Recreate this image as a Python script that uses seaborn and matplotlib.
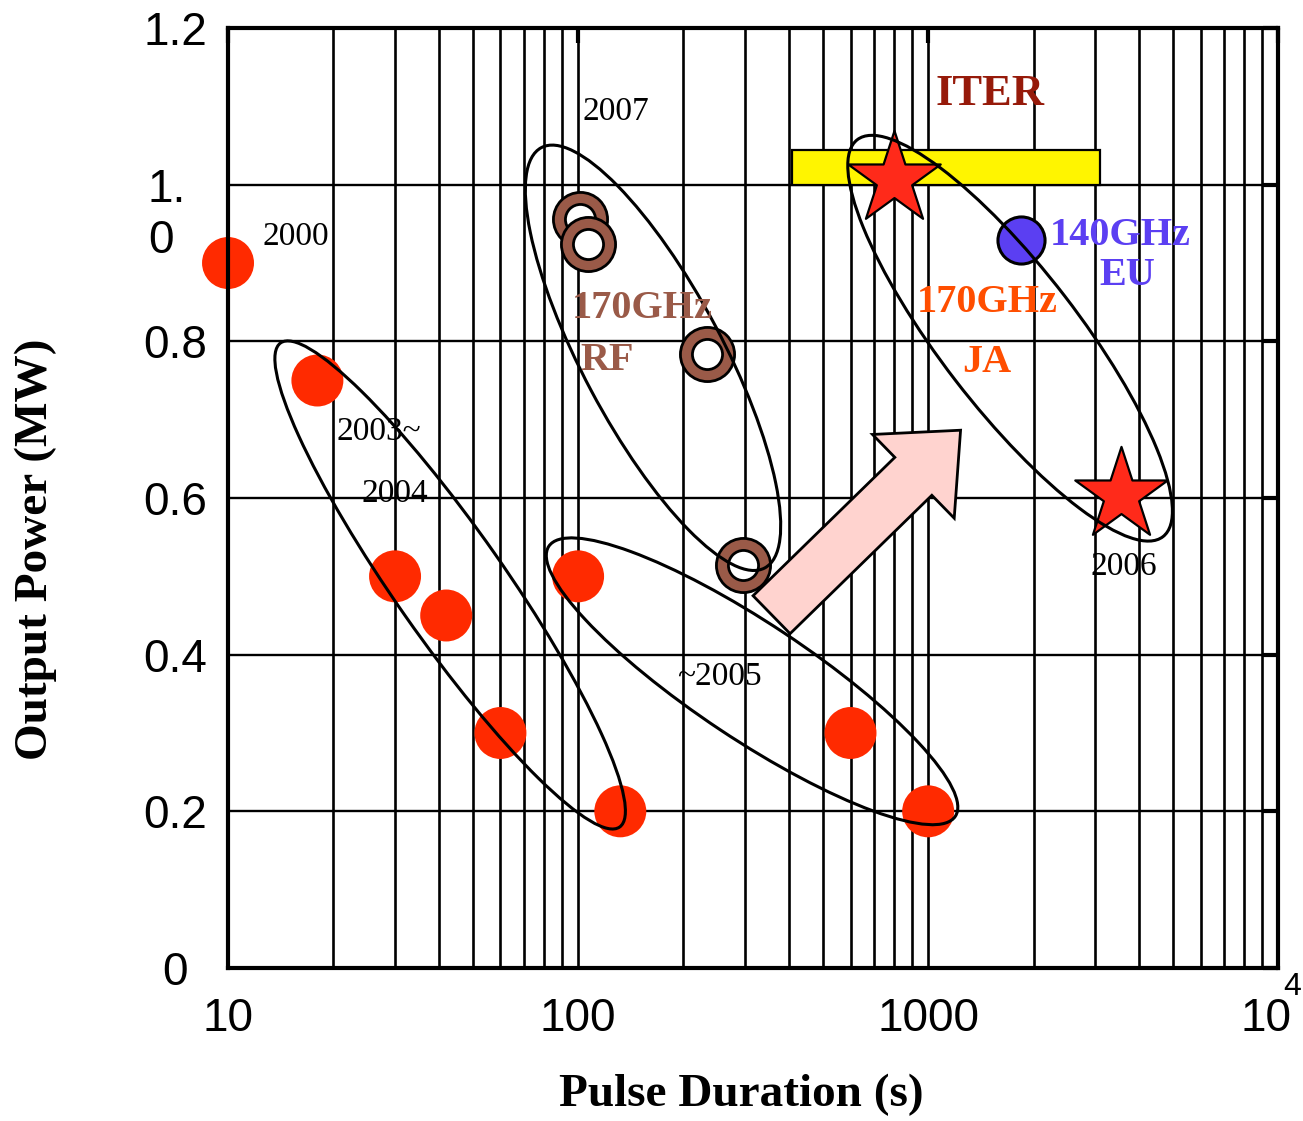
import matplotlib
matplotlib.use("Agg")
import matplotlib.pyplot as plt
import matplotlib.patches as mpatches
import matplotlib.transforms as mtransforms
from matplotlib.ticker import FixedLocator, LogLocator, NullFormatter
import seaborn as sns

sns.set_style("white")
plt.rcParams['font.family'] = ['Liberation Sans', 'DejaVu Sans']
plt.rcParams['text.color'] = 'black'
plt.rcParams['axes.labelcolor'] = 'black'
SERIF = ['Liberation Serif', 'DejaVu Serif']

# --- data --------------------------------------------------------------
red_x = [10, 18, 30, 42, 60, 132, 100, 600, 1000]
red_y = [0.90, 0.75, 0.50, 0.45, 0.30, 0.20, 0.50, 0.30, 0.20]
rf_x = [101, 107, 233, 296]
rf_y = [0.956, 0.924, 0.784, 0.514]
ja_star_x = [800, 3550]
ja_star_y = [1.007, 0.604]
eu_x = [1844]
eu_y = [0.930]
iter_x = [408, 3100]
iter_y = [1.0, 1.044]

x_ticks = [10, 100, 1000, 10000]
x_tick_labels = ['10', '100', '1000', '']
y_ticks = [0, 0.2, 0.4, 0.6, 0.8, 1.0, 1.2]
y_tick_labels = ['0', '0.2', '0.4', '0.6', '0.8', '', '1.2']

RED = '#FF2A00'
BROWN = '#9A5A48'
BLUE = '#5B3FF2'
STAR_RED = '#FF2A1A'
YELLOW = '#FFF500'
PINK = '#FFD3CF'

# group outlines: centre (data), size in pixels, angle in degrees
groups = [
    (43.1, 0.489, 591, 109, -55.0),   # 2003~2004
    (163.7, 0.779, 476, 140, -62.0),  # 2007, 170GHz RF
    (314, 0.366, 488, 116, -33.6),    # ~2005
    (1714, 0.804, 501, 138, -52.4),   # 2006, 170GHz JA
]

DPI = 100
fig = plt.figure(figsize=(13.03, 11.21), dpi=DPI)
ax = fig.add_axes([0.175, 0.1365, 0.806, 0.8385])
ax.set_xscale('log')
ax.set_xlim(10, 10000)
ax.set_ylim(0, 1.2)


def px_at(x, y):
    """transform: sizes in inches, anchored at data point (x, y)"""
    return fig.dpi_scale_trans + mtransforms.ScaledTranslation(x, y, ax.transData)


# grid
ax.xaxis.set_major_locator(FixedLocator(x_ticks))
ax.xaxis.set_minor_locator(LogLocator(base=10, subs=range(2, 10)))
ax.xaxis.set_minor_formatter(NullFormatter())
ax.set_xticklabels(x_tick_labels)
ax.set_yticks(y_ticks)
ax.set_yticklabels(y_tick_labels)
ax.grid(True, which='both', axis='x', color='black', lw=1.9, zorder=0)
ax.grid(True, which='major', axis='y', color='black', lw=1.7, zorder=0)
ax.set_axisbelow(True)

# ITER band
ax.add_patch(mpatches.Rectangle((iter_x[0], iter_y[0]), iter_x[1] - iter_x[0],
                                iter_y[1] - iter_y[0], fc=YELLOW, ec='black',
                                lw=1.6, zorder=2))

# progress arrow
ax.add_patch(mpatches.FancyArrow(0, 0, 1.89, 1.845, width=0.53, head_width=1.17,
                                 head_length=0.66, length_includes_head=True,
                                 fc=PINK, ec='black', lw=2, zorder=3,
                                 transform=px_at(357, 0.451)))

# points
sns.scatterplot(x=red_x, y=red_y, s=1400, color=RED, edgecolor='none',
                linewidth=0, ax=ax, zorder=4, legend=False, clip_on=False)
for i, (x, y) in enumerate(zip(rf_x, rf_y)):
    sns.scatterplot(x=[x], y=[y], s=1520, color=BROWN, edgecolor='black',
                    linewidth=2, ax=ax, zorder=4 + 0.1 * i, legend=False)
    sns.scatterplot(x=[x], y=[y], s=470, color='white', edgecolor='black',
                    linewidth=2, ax=ax, zorder=4.05 + 0.1 * i, legend=False)
sns.scatterplot(x=eu_x, y=eu_y, s=1150, color=BLUE, edgecolor='black',
                linewidth=2.2, ax=ax, zorder=4, legend=False)
sns.scatterplot(x=ja_star_x, y=ja_star_y, s=4900, marker='*', color=STAR_RED,
                edgecolor='black', linewidth=1.6, ax=ax, zorder=4, legend=False)

# outlines of groups
for cx, cy, w, h, ang in groups:
    ax.add_patch(mpatches.Ellipse((0, 0), w / DPI, h / DPI, angle=ang, fill=False,
                                  ec='black', lw=2.2, zorder=5,
                                  transform=px_at(cx, cy)))

# annotations
years = [
    ('2000', 15.64, 0.923),
    ('2007', 128.0, 1.083),
    ('2003~', 27.0, 0.674),
    ('2004', 29.97, 0.595),
    ('~2005', 253, 0.361),
    ('2006', 3630, 0.502),
]
for txt, x, y in years:
    ax.text(x, y, txt, ha='center', va='baseline', fontsize=24,
            family=SERIF, color='black', zorder=6)

labels = [
    ('ITER', 1500, 1.102, '#961A0A', 32),
    ('170GHz', 152.6, 0.830, BROWN, 29),
    ('RF', 121, 0.763, BROWN, 29),
    ('140GHz', 3540, 0.923, BLUE, 29),
    ('EU', 3710, 0.872, BLUE, 29),
    ('170GHz', 1474, 0.837, '#FF4E00', 29),
    ('JA', 1466, 0.761, '#FF4E00', 29),
]
for txt, x, y, col, fs in labels:
    ax.text(x, y, txt, ha='center', va='baseline', fontsize=fs,
            family=SERIF, weight='bold', color=col, zorder=6)

# axes styling
for sp in ax.spines.values():
    sp.set_linewidth(3)
    sp.set_color('black')
    sp.set_zorder(7)
ax.tick_params(which='major', direction='in', length=11, width=3,
               top=True, right=True, labelsize=33, colors='black')
ax.tick_params(which='minor', length=0)
ax.tick_params(axis='x', pad=21)
ax.tick_params(axis='y', pad=38)
for lab in ax.get_yticklabels():
    lab.set_ha('center')

# the 1.0 label is wrapped over two lines in the original
ax.text(-0.0762, 1.021, '1.\n0', transform=ax.get_yaxis_transform(),
        ha='left', va='top', fontsize=33, linespacing=1.2)
# the 10^4 label sits a little left of its tick, with a raised exponent
ax.text(0.9638, -0.0309, '10', transform=ax.transAxes,
        ha='left', va='top', fontsize=33)
ax.text(1.0045, -0.0045, '4', transform=ax.transAxes,
        ha='left', va='top', fontsize=23)

ax.set_xlabel('Pulse Duration (s)', fontsize=34, family=SERIF, weight='bold')
ax.set_ylabel('Output Power (MW)', fontsize=34, family=SERIF, weight='bold')
ax.xaxis.set_label_coords(0.489, -0.113)
ax.yaxis.set_label_coords(-0.163, 0.446)

fig.savefig('out.png', dpi=DPI)
